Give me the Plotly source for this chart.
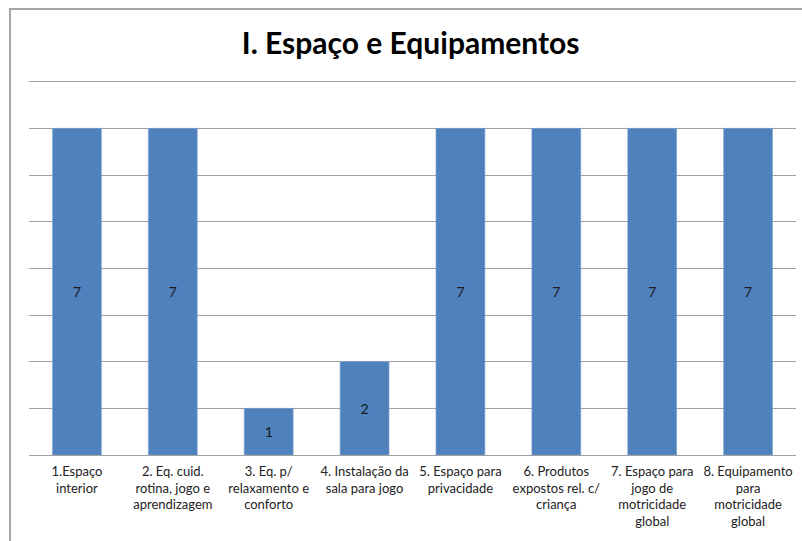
import plotly.graph_objects as go

categories = [
    "1.Espaço<br>interior",
    "2. Eq. cuid.<br>rotina, jogo e<br>aprendizagem",
    "3. Eq. p/<br>relaxamento e<br>conforto",
    "4. Instalação da<br>sala para jogo",
    "5. Espaço para<br>privacidade",
    "6. Produtos<br>expostos rel. c/<br>criança",
    "7. Espaço para<br>jogo de<br>motricidade<br>global",
    "8. Equipamento<br>para<br>motricidade<br>global",
]
values = [7, 7, 1, 2, 7, 7, 7, 7]
title_text = "I. Espaço e Equipamentos"

W, H = 802, 541
ml, mr, mt, mb = 29, 6, 77, 86
pw, ph = W - ml - mr, H - mt - mb

def px_x(x):
    return (x - ml) / pw

def px_y(y):
    return (H - mb - y) / ph

fig = go.Figure()
fig.add_trace(go.Bar(
    x=categories, y=values,
    marker=dict(color="#4F81BD", line=dict(color="#7FA2D0", width=0.6)),
    text=[str(v) for v in values], textposition="inside", insidetextanchor="middle",
    textfont=dict(family="Lato, Open Sans, sans-serif", size=14, color="#1a1a1a"),
    textangle=0,
    hoverinfo="skip",
))

fig.update_layout(
    width=W, height=H,
    margin=dict(l=ml, r=mr, t=mt, b=mb),
    paper_bgcolor="white", plot_bgcolor="white",
    bargap=0.49,
    showlegend=False,
    title=dict(text="<b>" + title_text + "</b>", x=0.512, xanchor="center", y=1 - 43 / H, yanchor="middle",
               font=dict(family="Lato, Open Sans, sans-serif", size=30, color="#000000")),
    xaxis=dict(showgrid=False, showline=True, linecolor="#a0a0a0", linewidth=1,
               ticks="", tickfont=dict(family="Lato, Open Sans, sans-serif", size=13, color="#222222"),
               tickangle=0, ticklabelstandoff=4),
    yaxis=dict(range=[0, 8.1], dtick=1, tick0=0, showgrid=True, gridcolor="#a0a0a0", gridwidth=1,
               showticklabels=False, zeroline=False, showline=False, ticks=""),
    shapes=[dict(type="rect", xref="paper", yref="paper",
                 x0=px_x(10), x1=px_x(812), y0=px_y(551), y1=px_y(9),
                 line=dict(color="#a6a6a6", width=2), fillcolor="rgba(0,0,0,0)", layer="below")],
    uniformtext=dict(mode="show", minsize=8),
)

fig.write_html("out.html")
